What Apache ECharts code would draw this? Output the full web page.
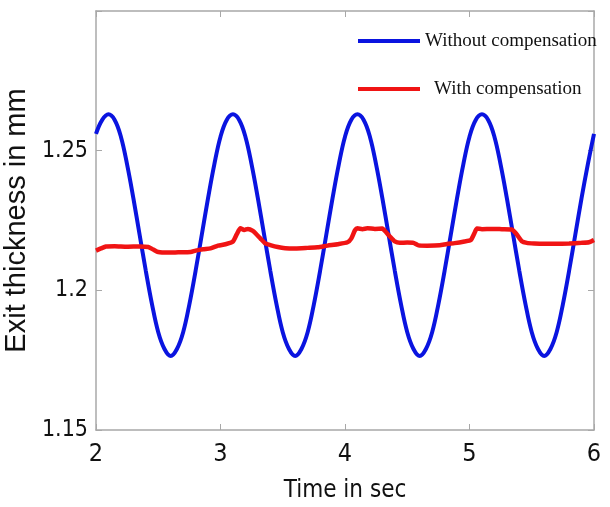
<!DOCTYPE html>
<html>
<head>
<meta charset="utf-8">
<script src="https://cdn.jsdelivr.net/npm/echarts@6/dist/echarts.min.js"></script>
<style>html,body{margin:0;padding:0;background:#fff;}#c{width:610px;height:507px;}</style>
</head>
<body>
<div id="c"></div>
<script>
// Time samples (sec) for the uncompensated signal
var blueTime = [2.00,2.05,2.10,2.15,2.20,2.25,2.30,2.35,2.40,2.45,2.50,2.55,2.60,2.65,2.70,2.75,2.80,2.85,2.90,2.95,
                3.00,3.05,3.10,3.15,3.20,3.25,3.30,3.35,3.40,3.45,3.50,3.55,3.60,3.65,3.70,3.75,3.80,3.85,3.90,3.95,
                4.00,4.05,4.10,4.15,4.20,4.25,4.30,4.35,4.40,4.45,4.50,4.55,4.60,4.65,4.70,4.75,4.80,4.85,4.90,4.95,
                5.00,5.05,5.10,5.15,5.20,5.25,5.30,5.35,5.40,5.45,5.50,5.55,5.60,5.65,5.70,5.75,5.80,5.85,5.90,5.95,6.00];
// Exit thickness without compensation (mm)
var blueValue = [1.256,1.261,1.263,1.261,1.255,1.245,1.233,1.220,1.207,1.195,1.185,1.179,1.1765,1.179,1.185,1.195,1.207,1.220,1.233,1.245,
                 1.255,1.261,1.263,1.261,1.255,1.245,1.233,1.220,1.207,1.195,1.185,1.179,1.1765,1.179,1.185,1.195,1.207,1.220,1.233,1.245,
                 1.255,1.261,1.263,1.261,1.255,1.245,1.233,1.220,1.207,1.195,1.185,1.179,1.1765,1.179,1.185,1.195,1.207,1.220,1.233,1.245,
                 1.255,1.261,1.263,1.261,1.255,1.245,1.233,1.220,1.207,1.195,1.185,1.179,1.1765,1.179,1.185,1.195,1.207,1.220,1.233,1.245,1.256];
// Time samples (sec) for the compensated signal
var redTime = [2.00,2.04,2.08,2.15,2.25,2.35,2.42,2.46,2.50,2.58,2.66,2.76,2.80,2.86,2.92,2.98,3.04,3.10,3.13,3.16,
               3.19,3.22,3.26,3.29,3.32,3.36,3.40,3.46,3.52,3.60,3.70,3.78,3.86,3.94,4.02,4.05,4.08,4.10,4.14,4.18,
               4.24,4.30,4.33,4.36,4.40,4.44,4.50,4.55,4.59,4.66,4.76,4.82,4.88,4.96,5.01,5.04,5.06,5.10,5.18,5.26,
               5.34,5.38,5.42,5.46,5.52,5.60,5.70,5.80,5.90,5.96,6.00];
// Exit thickness with compensation (mm)
var redValue = [1.2142,1.2150,1.2157,1.2158,1.2156,1.2157,1.2155,1.2146,1.2137,1.2135,1.2136,1.2137,1.2142,1.2147,1.2150,1.2160,1.2165,1.2175,1.2200,1.2222,
                1.2216,1.2220,1.2213,1.2200,1.2186,1.2168,1.2162,1.2155,1.2151,1.2150,1.2152,1.2154,1.2160,1.2165,1.2172,1.2185,1.2215,1.2222,1.2219,1.2222,
                1.2220,1.2221,1.2208,1.2193,1.2175,1.2170,1.2171,1.2170,1.2161,1.2160,1.2161,1.2166,1.2169,1.2175,1.2180,1.2205,1.2221,1.2219,1.2220,1.2219,
                1.2218,1.2200,1.2176,1.2170,1.2168,1.2167,1.2167,1.2168,1.2170,1.2172,1.2180];
var xTicks = [2,3,4,5,6];
var yTicks = [1.15,1.2,1.25];

function zip(a,b){var r=[];for(var i=0;i<a.length;i++){r.push([a[i],b[i]]);}return r;}

var narrow = "'Liberation Sans Narrow','Arial Narrow','DejaVu Sans Condensed','Liberation Sans',sans-serif";
var axisCol = '#a8a8a8';

var chart = echarts.init(document.getElementById('c'));
chart.setOption({
  animation:false,
  backgroundColor:'#fff',
  grid:{left:96,right:16,top:11,bottom:77,show:false,containLabel:false,outerBoundsMode:'none'},
  legend:[
    {data:['Without compensation'],left:358,top:31,padding:0,itemWidth:62,itemHeight:4,icon:'rect',
     textStyle:{fontFamily:"'Liberation Serif','Times New Roman',serif",fontSize:19,color:'#111',lineHeight:20}},
    {data:['With compensation'],left:358,top:79,padding:0,itemWidth:62,itemHeight:4,icon:'rect',
     textStyle:{fontFamily:"'Liberation Serif','Times New Roman',serif",fontSize:19,color:'#111',lineHeight:20,padding:[0,0,0,9]}}
  ],
  xAxis:[
    {type:'value',min:2,max:6,interval:1,position:'bottom',
     name:'Time in sec',nameLocation:'middle',nameGap:49,
     nameTextStyle:{fontFamily:narrow,fontSize:24,color:'#111'},
     axisLine:{show:true,lineStyle:{color:axisCol,width:1.5}},
     axisTick:{show:true,inside:true,length:6,lineStyle:{color:axisCol}},
     axisLabel:{fontFamily:narrow,fontSize:25,color:'#111',margin:12,
       formatter:function(v){return xTicks.indexOf(v)>=0?String(v):'';}},
     splitLine:{show:false}},
    {type:'value',min:2,max:6,interval:1,position:'top',
     axisLine:{show:true,lineStyle:{color:axisCol,width:1.5}},
     axisTick:{show:true,inside:true,length:6,lineStyle:{color:axisCol}},
     axisLabel:{show:false},splitLine:{show:false}}
  ],
  yAxis:[
    {type:'value',min:1.15,max:1.3,interval:0.05,position:'left',
     name:'Exit thickness in mm',nameLocation:'middle',nameGap:58,nameRotate:90,
     nameTextStyle:{fontFamily:"'Liberation Sans',Arial,sans-serif",fontSize:29,color:'#111'},
     axisLine:{show:true,lineStyle:{color:axisCol,width:1.5}},
     axisTick:{show:true,inside:true,length:6,lineStyle:{color:axisCol}},
     axisLabel:{fontFamily:narrow,fontSize:23,color:'#111',margin:8,
       formatter:function(v){var r=Math.round(v*100)/100;return yTicks.indexOf(r)>=0?String(r):'';}},
     splitLine:{show:false}},
    {type:'value',min:1.15,max:1.3,interval:0.05,position:'right',
     axisLine:{show:true,lineStyle:{color:axisCol,width:1.5}},
     axisTick:{show:true,inside:true,length:6,lineStyle:{color:axisCol}},
     axisLabel:{show:false},splitLine:{show:false}}
  ],
  series:[
    {name:'Without compensation',type:'line',data:zip(blueTime,blueValue),smooth:0.4,showSymbol:false,
     color:'#0a14e0',lineStyle:{color:'#0a14e0',width:4}},
    {name:'With compensation',type:'line',data:zip(redTime,redValue),smooth:0.2,showSymbol:false,
     color:'#f01414',lineStyle:{color:'#f01414',width:4.5}}
  ]
});
</script>
</body>
</html>
